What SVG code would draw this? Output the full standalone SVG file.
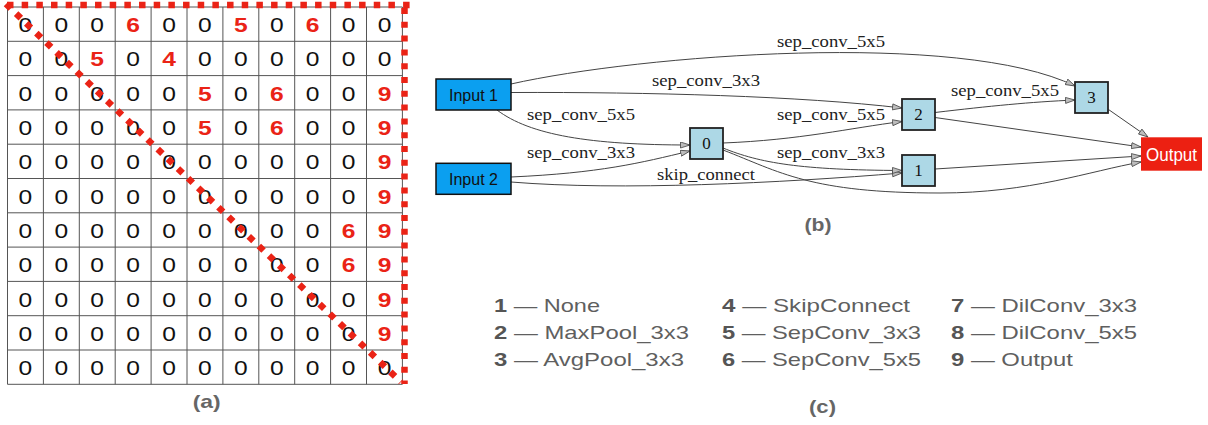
<svg xmlns="http://www.w3.org/2000/svg" width="1208" height="425" viewBox="0 0 1208 425">
<style>
.grid line{stroke:#555;stroke-width:1}
.z{font-family:"Liberation Sans",Arial,sans-serif;font-size:20.5px;fill:#111;text-anchor:middle}
.r{font-family:"Liberation Sans",Arial,sans-serif;font-size:20.5px;font-weight:bold;fill:#ea2316;text-anchor:middle}
.dot{fill:none;stroke:#ea2316;stroke-linecap:butt}
.edge{fill:none;stroke:#444;stroke-width:1;marker-end:url(#arr)}
.el{font-family:"Liberation Serif","Times New Roman",serif;font-size:16.5px;fill:#222;text-anchor:middle}
.inp{fill:#0b9ff0;stroke:#111;stroke-width:1.5}
.op{fill:#add8e6;stroke:#222;stroke-width:1.8}
.nt{font-family:"Liberation Serif","Times New Roman",serif;font-size:17px;fill:#111;text-anchor:middle}
.it{font-family:"Liberation Sans",Arial,sans-serif;font-size:16px;fill:#111;text-anchor:middle}
.cap{font-family:"Liberation Sans",Arial,sans-serif;font-size:19px;font-weight:bold;fill:#666;text-anchor:middle}
.lg{font-family:"Liberation Sans",Arial,sans-serif;font-size:19px;fill:#5f5f5f}
.lg tspan.n{font-weight:bold;fill:#555}
</style>
<defs>
<marker id="arr" markerUnits="userSpaceOnUse" markerWidth="11" markerHeight="8" refX="10" refY="3.5" orient="auto">
<path d="M0.5,0.5 L10,3.5 L0.5,6.5 z" fill="#bdbdbd" stroke="#444" stroke-width="0.8"/>
</marker>
</defs>
<rect width="1208" height="425" fill="#fff"/>

<!-- (a) matrix -->
<g id="matrix">
<g class="grid">
<line x1="7.5" y1="7" x2="7.5" y2="384.3"/><line x1="43.4" y1="7" x2="43.4" y2="384.3"/><line x1="79.3" y1="7" x2="79.3" y2="384.3"/><line x1="115.2" y1="7" x2="115.2" y2="384.3"/><line x1="151.1" y1="7" x2="151.1" y2="384.3"/><line x1="187" y1="7" x2="187" y2="384.3"/><line x1="222.9" y1="7" x2="222.9" y2="384.3"/><line x1="258.8" y1="7" x2="258.8" y2="384.3"/><line x1="294.7" y1="7" x2="294.7" y2="384.3"/><line x1="330.6" y1="7" x2="330.6" y2="384.3"/><line x1="366.5" y1="7" x2="366.5" y2="384.3"/><line x1="402.4" y1="7" x2="402.4" y2="384.3"/>
<line x1="7.5" y1="7" x2="402.4" y2="7"/><line x1="7.5" y1="41.3" x2="402.4" y2="41.3"/><line x1="7.5" y1="75.6" x2="402.4" y2="75.6"/><line x1="7.5" y1="109.9" x2="402.4" y2="109.9"/><line x1="7.5" y1="144.2" x2="402.4" y2="144.2"/><line x1="7.5" y1="178.5" x2="402.4" y2="178.5"/><line x1="7.5" y1="212.8" x2="402.4" y2="212.8"/><line x1="7.5" y1="247.1" x2="402.4" y2="247.1"/><line x1="7.5" y1="281.4" x2="402.4" y2="281.4"/><line x1="7.5" y1="315.7" x2="402.4" y2="315.7"/><line x1="7.5" y1="350" x2="402.4" y2="350"/><line x1="7.5" y1="384.3" x2="402.4" y2="384.3"/>
</g>
<g transform="scale(1.2,1)">
<!-- row 0 -->
<text class="z" x="21.2" y="32.2">0</text><text class="z" x="51.1" y="32.2">0</text><text class="z" x="81" y="32.2">0</text><text class="r" x="111" y="32.2">6</text><text class="z" x="140.9" y="32.2">0</text><text class="z" x="170.8" y="32.2">0</text><text class="r" x="200.7" y="32.2">5</text><text class="z" x="230.6" y="32.2">0</text><text class="r" x="260.5" y="32.2">6</text><text class="z" x="290.5" y="32.2">0</text><text class="z" x="320.4" y="32.2">0</text>
<!-- row 1 -->
<text class="z" x="21.2" y="66.5">0</text><text class="z" x="51.1" y="66.5">0</text><text class="r" x="81" y="66.5">5</text><text class="z" x="111" y="66.5">0</text><text class="r" x="140.9" y="66.5">4</text><text class="z" x="170.8" y="66.5">0</text><text class="z" x="200.7" y="66.5">0</text><text class="z" x="230.6" y="66.5">0</text><text class="z" x="260.5" y="66.5">0</text><text class="z" x="290.5" y="66.5">0</text><text class="z" x="320.4" y="66.5">0</text>
<!-- row 2 -->
<text class="z" x="21.2" y="100.8">0</text><text class="z" x="51.1" y="100.8">0</text><text class="z" x="81" y="100.8">0</text><text class="z" x="111" y="100.8">0</text><text class="z" x="140.9" y="100.8">0</text><text class="r" x="170.8" y="100.8">5</text><text class="z" x="200.7" y="100.8">0</text><text class="r" x="230.6" y="100.8">6</text><text class="z" x="260.5" y="100.8">0</text><text class="z" x="290.5" y="100.8">0</text><text class="r" x="320.4" y="100.8">9</text>
<!-- row 3 -->
<text class="z" x="21.2" y="135.1">0</text><text class="z" x="51.1" y="135.1">0</text><text class="z" x="81" y="135.1">0</text><text class="z" x="111" y="135.1">0</text><text class="z" x="140.9" y="135.1">0</text><text class="r" x="170.8" y="135.1">5</text><text class="z" x="200.7" y="135.1">0</text><text class="r" x="230.6" y="135.1">6</text><text class="z" x="260.5" y="135.1">0</text><text class="z" x="290.5" y="135.1">0</text><text class="r" x="320.4" y="135.1">9</text>
<!-- row 4 -->
<text class="z" x="21.2" y="169.4">0</text><text class="z" x="51.1" y="169.4">0</text><text class="z" x="81" y="169.4">0</text><text class="z" x="111" y="169.4">0</text><text class="z" x="140.9" y="169.4">0</text><text class="z" x="170.8" y="169.4">0</text><text class="z" x="200.7" y="169.4">0</text><text class="z" x="230.6" y="169.4">0</text><text class="z" x="260.5" y="169.4">0</text><text class="z" x="290.5" y="169.4">0</text><text class="r" x="320.4" y="169.4">9</text>
<!-- row 5 -->
<text class="z" x="21.2" y="203.7">0</text><text class="z" x="51.1" y="203.7">0</text><text class="z" x="81" y="203.7">0</text><text class="z" x="111" y="203.7">0</text><text class="z" x="140.9" y="203.7">0</text><text class="z" x="170.8" y="203.7">0</text><text class="z" x="200.7" y="203.7">0</text><text class="z" x="230.6" y="203.7">0</text><text class="z" x="260.5" y="203.7">0</text><text class="z" x="290.5" y="203.7">0</text><text class="r" x="320.4" y="203.7">9</text>
<!-- row 6 -->
<text class="z" x="21.2" y="238">0</text><text class="z" x="51.1" y="238">0</text><text class="z" x="81" y="238">0</text><text class="z" x="111" y="238">0</text><text class="z" x="140.9" y="238">0</text><text class="z" x="170.8" y="238">0</text><text class="z" x="200.7" y="238">0</text><text class="z" x="230.6" y="238">0</text><text class="z" x="260.5" y="238">0</text><text class="r" x="290.5" y="238">6</text><text class="r" x="320.4" y="238">9</text>
<!-- row 7 -->
<text class="z" x="21.2" y="272.3">0</text><text class="z" x="51.1" y="272.3">0</text><text class="z" x="81" y="272.3">0</text><text class="z" x="111" y="272.3">0</text><text class="z" x="140.9" y="272.3">0</text><text class="z" x="170.8" y="272.3">0</text><text class="z" x="200.7" y="272.3">0</text><text class="z" x="230.6" y="272.3">0</text><text class="z" x="260.5" y="272.3">0</text><text class="r" x="290.5" y="272.3">6</text><text class="r" x="320.4" y="272.3">9</text>
<!-- row 8 -->
<text class="z" x="21.2" y="306.6">0</text><text class="z" x="51.1" y="306.6">0</text><text class="z" x="81" y="306.6">0</text><text class="z" x="111" y="306.6">0</text><text class="z" x="140.9" y="306.6">0</text><text class="z" x="170.8" y="306.6">0</text><text class="z" x="200.7" y="306.6">0</text><text class="z" x="230.6" y="306.6">0</text><text class="z" x="260.5" y="306.6">0</text><text class="z" x="290.5" y="306.6">0</text><text class="r" x="320.4" y="306.6">9</text>
<!-- row 9 -->
<text class="z" x="21.2" y="340.9">0</text><text class="z" x="51.1" y="340.9">0</text><text class="z" x="81" y="340.9">0</text><text class="z" x="111" y="340.9">0</text><text class="z" x="140.9" y="340.9">0</text><text class="z" x="170.8" y="340.9">0</text><text class="z" x="200.7" y="340.9">0</text><text class="z" x="230.6" y="340.9">0</text><text class="z" x="260.5" y="340.9">0</text><text class="z" x="290.5" y="340.9">0</text><text class="r" x="320.4" y="340.9">9</text>
<!-- row 10 -->
<text class="z" x="21.2" y="375.2">0</text><text class="z" x="51.1" y="375.2">0</text><text class="z" x="81" y="375.2">0</text><text class="z" x="111" y="375.2">0</text><text class="z" x="140.9" y="375.2">0</text><text class="z" x="170.8" y="375.2">0</text><text class="z" x="200.7" y="375.2">0</text><text class="z" x="230.6" y="375.2">0</text><text class="z" x="260.5" y="375.2">0</text><text class="z" x="290.5" y="375.2">0</text><text class="z" x="320.4" y="375.2">0</text>
</g>
<line class="dot" x1="7" y1="5" x2="410" y2="5" stroke-width="6.5" stroke-dasharray="6.5 8.17"/>
<line class="dot" x1="404.5" y1="8" x2="404.5" y2="384" stroke-width="6.5" stroke-dasharray="6 7.8"/>
<line class="dot" x1="6" y1="4" x2="401" y2="382" stroke-width="6.5" stroke-dasharray="6.5 7.5"/>
<text class="cap" x="206.7" y="407.5" textLength="28" lengthAdjust="spacingAndGlyphs">(a)</text>
</g>

<!-- (b) graph -->
<g id="connectors">
<path class="edge" d="M511,84 C640,55 960,30 1075,86"/>
<path class="edge" d="M511,92.5 C650,92 800,96 902,108"/>
<path class="edge" d="M497,110 C530,135 590,145 690,145"/>
<path class="edge" d="M511,177 C600,173 640,163 690,151"/>
<path class="edge" d="M511,182 C620,191 780,183 902,173"/>
<path class="edge" d="M723,143 C800,140 850,128 902,121.5"/>
<path class="edge" d="M723,148 C760,163 800,170 902,170.5"/>
<path class="edge" d="M723,150 C780,172 810,193 940,193 C1030,193 1090,171 1141,162"/>
<path class="edge" d="M935,112.5 C990,106 1030,102 1075,100"/>
<path class="edge" d="M935,117.5 L1141,147"/>
<path class="edge" d="M1108.5,109.5 L1148,137"/>
<path class="edge" d="M935,169 L1141,156"/>
<text class="el" x="831" y="47" textLength="108" lengthAdjust="spacingAndGlyphs">sep_conv_5x5</text>
<text class="el" x="706" y="86" textLength="108" lengthAdjust="spacingAndGlyphs">sep_conv_3x3</text>
<text class="el" x="581" y="120" textLength="108" lengthAdjust="spacingAndGlyphs">sep_conv_5x5</text>
<text class="el" x="581" y="157.5" textLength="108" lengthAdjust="spacingAndGlyphs">sep_conv_3x3</text>
<text class="el" x="706" y="180" textLength="98" lengthAdjust="spacingAndGlyphs">skip_connect</text>
<text class="el" x="831" y="120" textLength="108" lengthAdjust="spacingAndGlyphs">sep_conv_5x5</text>
<text class="el" x="831" y="158" textLength="108" lengthAdjust="spacingAndGlyphs">sep_conv_3x3</text>
<text class="el" x="1005" y="96" textLength="108" lengthAdjust="spacingAndGlyphs">sep_conv_5x5</text>
</g>
<g id="input1"><rect class="inp" x="436" y="79" width="75" height="31"/><text class="it" x="473.5" y="100.5" textLength="49" lengthAdjust="spacingAndGlyphs">Input 1</text></g>
<g id="input2"><rect class="inp" x="436" y="163.3" width="75" height="31"/><text class="it" x="473.5" y="185" textLength="49" lengthAdjust="spacingAndGlyphs">Input 2</text></g>
<g id="node0"><rect class="op" x="690" y="128" width="33" height="31"/><text class="nt" x="706.5" y="149">0</text></g>
<g id="node2"><rect class="op" x="902" y="99" width="33" height="31"/><text class="nt" x="918.5" y="120">2</text></g>
<g id="node1"><rect class="op" x="902" y="155" width="33" height="31"/><text class="nt" x="918.5" y="176">1</text></g>
<g id="node3"><rect class="op" x="1075" y="82" width="33" height="31"/><text class="nt" x="1091.5" y="103">3</text></g>
<g id="output"><rect x="1141" y="137.3" width="61" height="33.4" fill="#ec2012"/><text x="1171.5" y="160.5" font-family="Liberation Sans, Arial, sans-serif" font-size="17.5" fill="#fff" text-anchor="middle" textLength="51" lengthAdjust="spacingAndGlyphs">Output</text></g>
<text class="cap" x="818" y="231" textLength="27" lengthAdjust="spacingAndGlyphs">(b)</text>

<!-- (c) legend -->
<g id="legend">
<text class="lg" x="494" y="311.5" textLength="106" lengthAdjust="spacingAndGlyphs"><tspan class="n">1</tspan> — None</text>
<text class="lg" x="494" y="338.5" textLength="195" lengthAdjust="spacingAndGlyphs"><tspan class="n">2</tspan> — MaxPool_3x3</text>
<text class="lg" x="494" y="366" textLength="190" lengthAdjust="spacingAndGlyphs"><tspan class="n">3</tspan> — AvgPool_3x3</text>
<text class="lg" x="722" y="311.5" textLength="188" lengthAdjust="spacingAndGlyphs"><tspan class="n">4</tspan> — SkipConnect</text>
<text class="lg" x="722" y="338.5" textLength="199" lengthAdjust="spacingAndGlyphs"><tspan class="n">5</tspan> — SepConv_3x3</text>
<text class="lg" x="722" y="366" textLength="199" lengthAdjust="spacingAndGlyphs"><tspan class="n">6</tspan> — SepConv_5x5</text>
<text class="lg" x="951" y="311.5" textLength="186" lengthAdjust="spacingAndGlyphs"><tspan class="n">7</tspan> — DilConv_3x3</text>
<text class="lg" x="951" y="338.5" textLength="186" lengthAdjust="spacingAndGlyphs"><tspan class="n">8</tspan> — DilConv_5x5</text>
<text class="lg" x="951" y="366" textLength="122" lengthAdjust="spacingAndGlyphs"><tspan class="n">9</tspan> — Output</text>
<text class="cap" x="822.5" y="412.5" textLength="27" lengthAdjust="spacingAndGlyphs">(c)</text>
</g>
</svg>
